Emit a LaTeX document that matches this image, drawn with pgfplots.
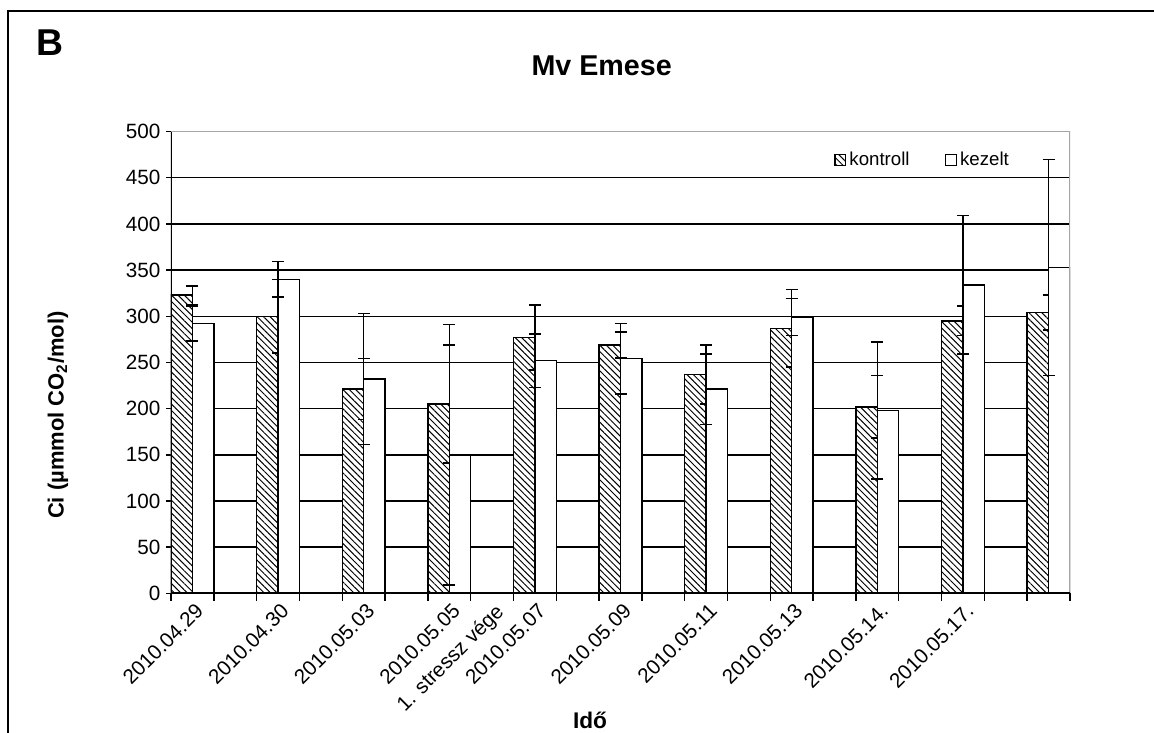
\documentclass[border=0pt]{standalone}
\usepackage{fontspec}
\setmainfont{Liberation Sans}
\usepackage{pgfplots}
\usepackage{pgfplotstable}
\pgfplotsset{compat=1.18}
\usetikzlibrary{patterns.meta}

% Ci per measuring day: mean and error for the control and treated plants.
% Every second slot is an empty spacer category.
\pgfplotstableread{
x  kon konerr kez kezerr
0  323 10  292 19
2  300 40  340 19
4  221 33  232 71
6  205 64  150 141
8  277 35  252 29
10 269 14  254 38
12 237 32  221 38
14 287 42  299 20
16 202 34  198 74
18 295 16  334 75
20 304 19  353 117
}\citable

\begin{document}
\begin{tikzpicture}
\useasboundingbox (-128.25pt,-104.5pt) rectangle (737.25pt,445pt);
\begin{axis}[
  at={(0pt,0pt)}, anchor=south west,
  scale only axis,
  width=674.25pt, height=346.35pt,
  xmin=-0.5, xmax=20.5,
  ymin=0, ymax=500,
  ytick={0,50,...,500},
  xtick={0,...,20},
  xticklabels={2010.04.29,,2010.04.30,,2010.05.03,,2010.05.05,1. stressz vége,2010.05.07,,2010.05.09,,2010.05.11,,2010.05.13,,2010.05.14.,,2010.05.17.,,},
  minor xtick={-0.5,0.5,...,20.5},
  tick pos=left,
  tick align=outside,
  major tick length=3.75pt,
  minor tick length=5.5pt,
  major x tick style={draw=none},
  minor x tick style={black, line width=1.1pt},
  y tick style={black, line width=1.1pt},
  ymajorgrids,
  major grid style={black, line width=1.1pt},
  axis line style={draw=none},
  /pgf/number format/assume math mode=true,
  tick label style={font=\fontsize{15.5}{17}\selectfont, black},
  xticklabel style={rotate=45, anchor=north east, inner sep=1pt, yshift=-2pt},
  yticklabel style={inner sep=1pt, xshift=-3pt},
  legend columns=2,
  legend style={at={(0.733,0.938)}, anchor=west, draw=none, fill=none,
    font=\fontsize{14}{16}\selectfont,
    /tikz/every even column/.append style={column sep=24pt},
    nodes={inner xsep=2.5pt}},
  legend image code/.code={\draw[#1, line width=0.9pt] (0pt,-3.8pt) rectangle (8pt,4.2pt);},
  error bars/error bar style={black, line width=1.1pt},
  error bars/error mark options={black, rotate=90, mark size=4.5pt, line width=1.1pt},
]
\addplot[ybar, bar width=0.5, bar shift=-0.25, draw=black, line width=1.1pt,
  preaction={fill=white},
  pattern={Lines[angle=-45, distance=3.4pt, line width=0.75pt]},
  error bars/.cd, y dir=both, y explicit]
  table[x=x, y=kon, y error=konerr] {\citable};
\addlegendentry{kontroll}
\addplot[ybar, bar width=0.5, bar shift=0.25, draw=black, line width=1.1pt, fill=white,
  error bars/.cd, y dir=both, y explicit]
  table[x=x, y=kez, y error=kezerr] {\citable};
\addlegendentry{kezelt}
% plot area frame: grey on top and right, black axes on left and bottom
\draw[gray!70, line width=1pt] (rel axis cs:0,1) -- (rel axis cs:1,1) -- (rel axis cs:1,0);
\draw[black, line width=1.3pt] (rel axis cs:0,1) -- (rel axis cs:0,0) -- (rel axis cs:1,0);
\end{axis}
% outer frame
\draw[black, line width=1.5pt] (-122.6pt,-110pt) -- (-122.6pt,437.1pt) -- (745pt,437.1pt);
\node[anchor=base, font=\bfseries\fontsize{28}{32}\selectfont] at (-90.75pt,403pt) {B};
\node[anchor=base, font=\bfseries\fontsize{21.5}{25}\selectfont] at (323pt,388pt) {Mv Emese};
\node[rotate=90, font=\bfseries\fontsize{16.5}{19}\selectfont] at (-84.75pt,133.7pt) {Ci (µmmol CO\textsubscript{2}/mol)};
\node[anchor=base, font=\bfseries\fontsize{17}{20}\selectfont] at (314.25pt,-101pt) {Idő};
\end{tikzpicture}
\end{document}
